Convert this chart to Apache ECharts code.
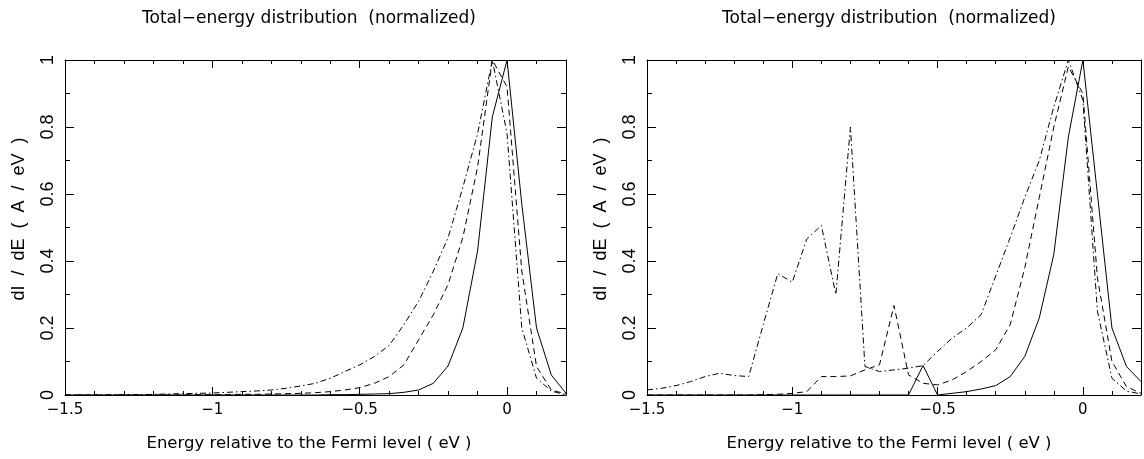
<!DOCTYPE html>
<html><head><meta charset="utf-8">
<script src="https://cdn.jsdelivr.net/npm/echarts@6/dist/echarts.min.js"></script>
<style>html,body{margin:0;padding:0;background:#fff}#c{width:1144px;height:459px}</style>
</head><body><div id="c"></div>
<script>
// ---- data ----
const energies = [-1.5,-1.45,-1.4,-1.35,-1.3,-1.25,-1.2,-1.15,-1.1,-1.05,
  -1.0,-0.95,-0.9,-0.85,-0.8,-0.75,-0.7,-0.65,-0.6,-0.55,
  -0.5,-0.45,-0.4,-0.35,-0.3,-0.25,-0.2,-0.15,-0.1,-0.05,
  0,0.05,0.1,0.15,0.2];

const leftSolid = [0,0,0,0,0,0,0,0,0,0,
  0,0,0,0,0,0,0,0,0.001,0.001,
  0.002,0.003,0.004,0.008,0.015,0.035,0.087,0.2,0.43,0.83,
  1.0,0.57,0.2,0.06,0.005];
const leftDashed = [0,0,0,0,0,0,0,0,0,0.001,
  0.001,0.001,0.002,0.002,0.003,0.004,0.005,0.007,0.01,0.015,
  0.022,0.035,0.055,0.09,0.165,0.24,0.33,0.47,0.68,1.0,
  0.92,0.37,0.085,0.015,0.003];
const leftDashDot = [0,0,0,0.0005,0.001,0.001,0.002,0.003,0.004,0.005,
  0.006,0.008,0.01,0.012,0.015,0.02,0.027,0.035,0.05,0.07,
  0.09,0.115,0.148,0.21,0.28,0.37,0.47,0.62,0.78,1.0,
  0.78,0.2,0.05,0.012,0.0];

const rightSolid = [0,0,0,0,0,0,0,0,0,0,
  0,0,0,0,0,0,0,0,0,0.088,
  0,0.005,0.01,0.018,0.028,0.055,0.115,0.23,0.42,0.77,
  1.0,0.6,0.2,0.085,0.04];
const rightDashed = [0,0,0,0,0,0,0,0,0.001,0.002,
  0.005,0.01,0.055,0.055,0.057,0.075,0.09,0.267,0.06,0.035,
  0.03,0.045,0.07,0.1,0.135,0.21,0.38,0.59,0.8,0.98,
  0.9,0.35,0.1,0.025,0.005];
const rightDashDot = [0.015,0.02,0.028,0.04,0.055,0.065,0.058,0.055,0.21,0.362,
  0.337,0.466,0.506,0.30,0.80,0.085,0.07,0.075,0.08,0.088,
  0.13,0.17,0.2,0.24,0.355,0.47,0.59,0.70,0.86,1.0,
  0.88,0.25,0.05,0.012,0.003];

const xTickLabels = {"-1.5":"\u22121.5","-1":"\u22121","-0.5":"\u22120.5","0":"0"};
const yTickLabels = {"0":"0","0.2":"0.2","0.4":"0.4","0.6":"0.6","0.8":"0.8","1":"1"};
const titleText = "Total\u2212energy distribution  (normalized)";
const xTitleText = "Energy relative to the Fermi level ( eV )";
const yTitleText = "dI  /  dE  (  A  /  eV  )";

// ---- layout ----
const grids = [
  {left: 65, top: 60, width: 501, height: 335},
  {left: 647, top: 60, width: 501, height: 335}
];
const hershey = "'DejaVu Sans', sans-serif";
const helv = "'Liberation Sans', Arial, sans-serif";

function xFmt(v){
  if (Math.abs(v*2 - Math.round(v*2)) > 1e-6) return '';
  const k = String(Math.round(v*2)/2);
  return xTickLabels[k === '-0' ? '0' : k] || '';
}
function yFmt(v){
  if (Math.abs(v*5 - Math.round(v*5)) > 1e-6) return '';
  return yTickLabels[String(Math.round(v*5)/5)] || '';
}

const tickStyle = {color: '#000', width: 1};
const xAxes = [], yAxes = [];
grids.forEach((g, gi) => {
  const baseX = {gridIndex: gi, type: 'value', min: -1.5, max: 0.2, splitLine: {show: false}};
  xAxes.push(Object.assign({}, baseX, {position: 'bottom', interval: 0.1,
    axisLine: {show: true, onZero: false, lineStyle: {color: '#000', width: 1}},
    axisTick: {show: true, inside: true, length: 4, lineStyle: tickStyle},
    axisLabel: {show: true, margin: 8, color: '#000', fontSize: 15, fontFamily: hershey, formatter: xFmt, showMinLabel: true, showMaxLabel: true}}));
  xAxes.push(Object.assign({}, baseX, {position: 'bottom', interval: 0.5,
    axisLine: {show: false, onZero: false}, axisTick: {show: true, inside: true, length: 8, lineStyle: tickStyle},
    axisLabel: {show: false}}));
  xAxes.push(Object.assign({}, baseX, {position: 'top', interval: 0.1,
    axisLine: {show: true, onZero: false, lineStyle: {color: '#000', width: 1}},
    axisTick: {show: true, inside: true, length: 4, lineStyle: tickStyle},
    axisLabel: {show: false}}));
  xAxes.push(Object.assign({}, baseX, {position: 'top', interval: 0.5,
    axisLine: {show: false, onZero: false}, axisTick: {show: true, inside: true, length: 8, lineStyle: tickStyle},
    axisLabel: {show: false}}));

  const baseY = {gridIndex: gi, type: 'value', min: 0, max: 1, splitLine: {show: false}};
  yAxes.push(Object.assign({}, baseY, {position: 'left', interval: 0.1,
    axisLine: {show: true, onZero: false, lineStyle: {color: '#000', width: 1}},
    axisTick: {show: true, inside: true, length: 5, lineStyle: tickStyle},
    axisLabel: {show: true, rotate: 90, margin: 8, color: '#000', fontSize: 18, fontFamily: helv, formatter: yFmt, showMinLabel: true, showMaxLabel: true}}));
  yAxes.push(Object.assign({}, baseY, {position: 'left', interval: 0.2,
    axisLine: {show: false, onZero: false}, axisTick: {show: true, inside: true, length: 9, lineStyle: tickStyle},
    axisLabel: {show: false}}));
  yAxes.push(Object.assign({}, baseY, {position: 'right', interval: 0.1,
    axisLine: {show: true, onZero: false, lineStyle: {color: '#000', width: 1}},
    axisTick: {show: true, inside: true, length: 5, lineStyle: tickStyle},
    axisLabel: {show: false}}));
  yAxes.push(Object.assign({}, baseY, {position: 'right', interval: 0.2,
    axisLine: {show: false, onZero: false}, axisTick: {show: true, inside: true, length: 9, lineStyle: tickStyle},
    axisLabel: {show: false}}));
});

const dashedPattern = [6, 4];
const dashDotPattern = [6, 3, 1.5, 3];
function mkSeries(arr, gi, type){
  return {
    type: 'line', xAxisIndex: gi*4, yAxisIndex: gi*4,
    data: energies.map((e, i) => [e, arr[i]]),
    symbol: 'none', showSymbol: false, silent: true,
    lineStyle: {color: '#000', width: 1, type: type},
    animation: false
  };
}
const series = [
  mkSeries(leftSolid, 0, 'solid'),
  mkSeries(leftDashed, 0, dashedPattern),
  mkSeries(leftDashDot, 0, dashDotPattern),
  mkSeries(rightSolid, 1, 'solid'),
  mkSeries(rightDashed, 1, dashedPattern),
  mkSeries(rightDashDot, 1, dashDotPattern)
];

const graphic = [];
const panelCenters = [309, 889];
const yTitleX = [19, 601];
panelCenters.forEach((cx, gi) => {
  graphic.push({type: 'text', x: cx, y: 19, silent: true,
    style: {text: titleText, fill: '#000', font: '17px ' + hershey, textAlign: 'center', textVerticalAlign: 'middle'}});
  graphic.push({type: 'text', x: cx, y: 444, silent: true,
    style: {text: xTitleText, fill: '#000', font: '16.5px ' + hershey, textAlign: 'center', textVerticalAlign: 'middle'}});
  graphic.push({type: 'text', x: yTitleX[gi], y: 219, rotation: Math.PI/2, silent: true,
    style: {text: yTitleText, fill: '#000', font: '18px ' + helv, textAlign: 'center', textVerticalAlign: 'middle'}});
});

const chart = echarts.init(document.getElementById('c'), null, {renderer: 'canvas'});
chart.setOption({
  backgroundColor: '#fff',
  animation: false,
  grid: grids,
  xAxis: xAxes,
  yAxis: yAxes,
  series: series,
  graphic: graphic
});
</script>
</body></html>
